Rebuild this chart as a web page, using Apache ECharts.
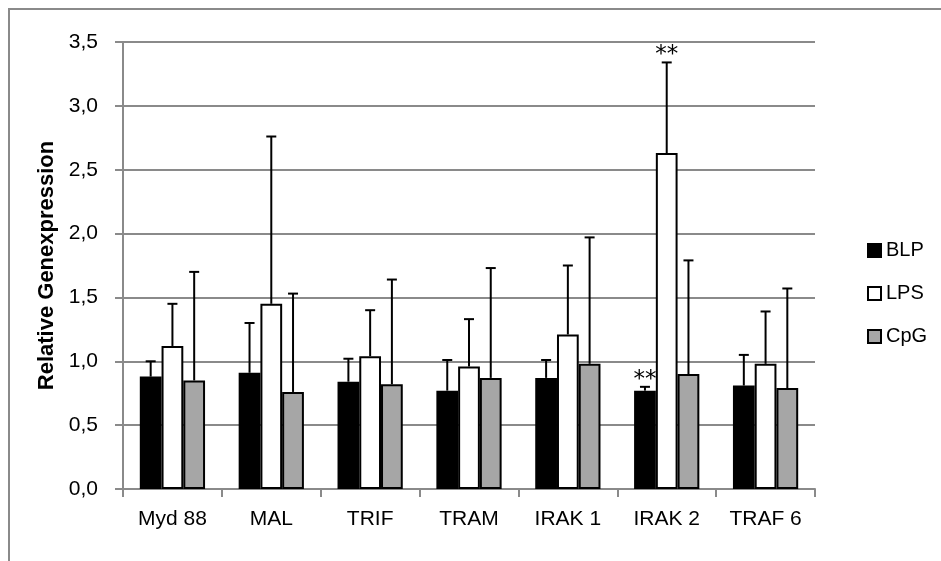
<!DOCTYPE html>
<html>
<head>
<meta charset="utf-8">
<script src="https://cdn.jsdelivr.net/npm/echarts@6/dist/echarts.min.js"></script>
<style>
  html, body { margin: 0; padding: 0; background: #fff; }
  #chart { width: 941px; height: 561px; }
</style>
</head>
<body>
<div id="chart"></div>
<script>
// Genes on the category axis
const categories = ['Myd 88', 'MAL', 'TRIF', 'TRAM', 'IRAK 1', 'IRAK 2', 'TRAF 6'];

// Mean relative expression per stimulus
const blp = [0.88, 0.91, 0.84, 0.77, 0.87, 0.77, 0.81];
const lps = [1.12, 1.45, 1.04, 0.96, 1.21, 2.63, 0.98];
const cpg = [0.85, 0.76, 0.82, 0.87, 0.98, 0.90, 0.79];

// Standard deviations (upper error bars)
const blpSd = [0.12, 0.39, 0.18, 0.24, 0.14, 0.03, 0.24];
const lpsSd = [0.33, 1.31, 0.36, 0.37, 0.54, 0.71, 0.41];
const cpgSd = [0.85, 0.77, 0.82, 0.86, 0.99, 0.89, 0.78];

// Significance markers
const blpSig = ['', '', '', '', '', '**', ''];
const lpsSig = ['', '', '', '', '', '**', ''];
const cpgSig = ['', '', '', '', '', '', ''];

// Y axis ticks
const yMin = 0, yMax = 3.5, yStep = 0.5;

const FONT = '"Liberation Sans", Arial, sans-serif';
const GRID_GRAY = '#8a8a8a';
const BAR_FRACTION = 0.22;

const groups = [
  { name: 'BLP', values: blp, sd: blpSd, sig: blpSig, color: '#000000' },
  { name: 'LPS', values: lps, sd: lpsSd, sig: lpsSig, color: '#ffffff' },
  { name: 'CpG', values: cpg, sd: cpgSd, sig: cpgSig, color: '#a6a6a6' }
];

const chart = echarts.init(document.getElementById('chart'), null, { renderer: 'canvas' });

// Upper error bar (stem + cap) per bar, with optional significance stars
function errorSeries(g, idx) {
  return {
    type: 'custom',
    name: g.name + ' SD',
    z: 5,
    silent: true,
    data: g.values.map((v, i) => [i, v, g.sd[i]]),
    renderItem: function (params, api) {
      const ci = api.value(0);
      const mean = api.value(1);
      const sd = api.value(2);
      const sig = g.sig[ci];
      const bw = api.size([1, 0])[0] * BAR_FRACTION;
      const base = api.coord([ci, mean]);
      const top = api.coord([ci, mean + sd]);
      const x = base[0] + (idx - 1) * bw;
      const style = { stroke: '#000', lineWidth: 2 };
      const children = [
        { type: 'line', shape: { x1: x, y1: base[1], x2: x, y2: top[1] }, style: style },
        { type: 'line', shape: { x1: x - 5, y1: top[1], x2: x + 5, y2: top[1] }, style: style }
      ];
      if (sig) {
        children.push({
          type: 'text',
          style: {
            text: sig, x: x, y: top[1] - 7,
            align: 'center', verticalAlign: 'middle',
            font: '23px "DejaVu Sans", sans-serif', fill: '#000'
          }
        });
      }
      return { type: 'group', children: children };
    }
  };
}

const option = {
  animation: false,
  backgroundColor: '#fff',
  textStyle: { fontFamily: FONT },
  graphic: [{
    type: 'rect',
    shape: { x: 9, y: 9, width: 1200, height: 1200 },
    style: { fill: 'none', stroke: GRID_GRAY, lineWidth: 2 },
    silent: true, z: -10
  }],
  grid: { left: 123, right: 126, top: 42, bottom: 72, containLabel: false },
  legend: {
    orient: 'vertical',
    left: 862,
    top: 235,
    itemWidth: 13,
    itemHeight: 13,
    itemGap: 22,
    textStyle: { fontFamily: FONT, fontSize: 20, color: '#000', lineHeight: 21 },
    data: groups.map(g => ({ name: g.name, icon: 'rect' }))
  },
  xAxis: {
    type: 'category',
    data: categories,
    axisLine: { lineStyle: { color: GRID_GRAY, width: 2 } },
    axisTick: { show: true, length: 8, lineStyle: { color: GRID_GRAY, width: 2 } },
    axisLabel: { fontFamily: FONT, fontSize: 21, color: '#000', margin: 20, interval: 0 }
  },
  yAxis: {
    type: 'value',
    min: yMin, max: yMax, interval: yStep,
    name: 'Relative Genexpression',
    nameLocation: 'middle',
    nameGap: 64,
    nameTextStyle: { fontFamily: FONT, fontSize: 22, fontWeight: 'bold', color: '#000' },
    axisLine: { show: true, lineStyle: { color: GRID_GRAY, width: 2 } },
    axisTick: { show: true, length: 8, lineStyle: { color: GRID_GRAY, width: 2 } },
    axisLabel: {
      fontFamily: FONT, fontSize: 21, color: '#000', margin: 25,
      formatter: v => v.toFixed(1).replace('.', ',')
    },
    splitLine: { lineStyle: { color: GRID_GRAY, width: 2 } }
  },
  series: groups.map(g => ({
    type: 'bar',
    name: g.name,
    data: g.values,
    barWidth: (BAR_FRACTION * 100) + '%',
    barGap: '0%',
    itemStyle: { color: g.color, borderColor: '#000', borderWidth: 2 },
    emphasis: { disabled: true }
  })).concat(groups.map(errorSeries))
};

chart.setOption(option);
</script>
</body>
</html>
